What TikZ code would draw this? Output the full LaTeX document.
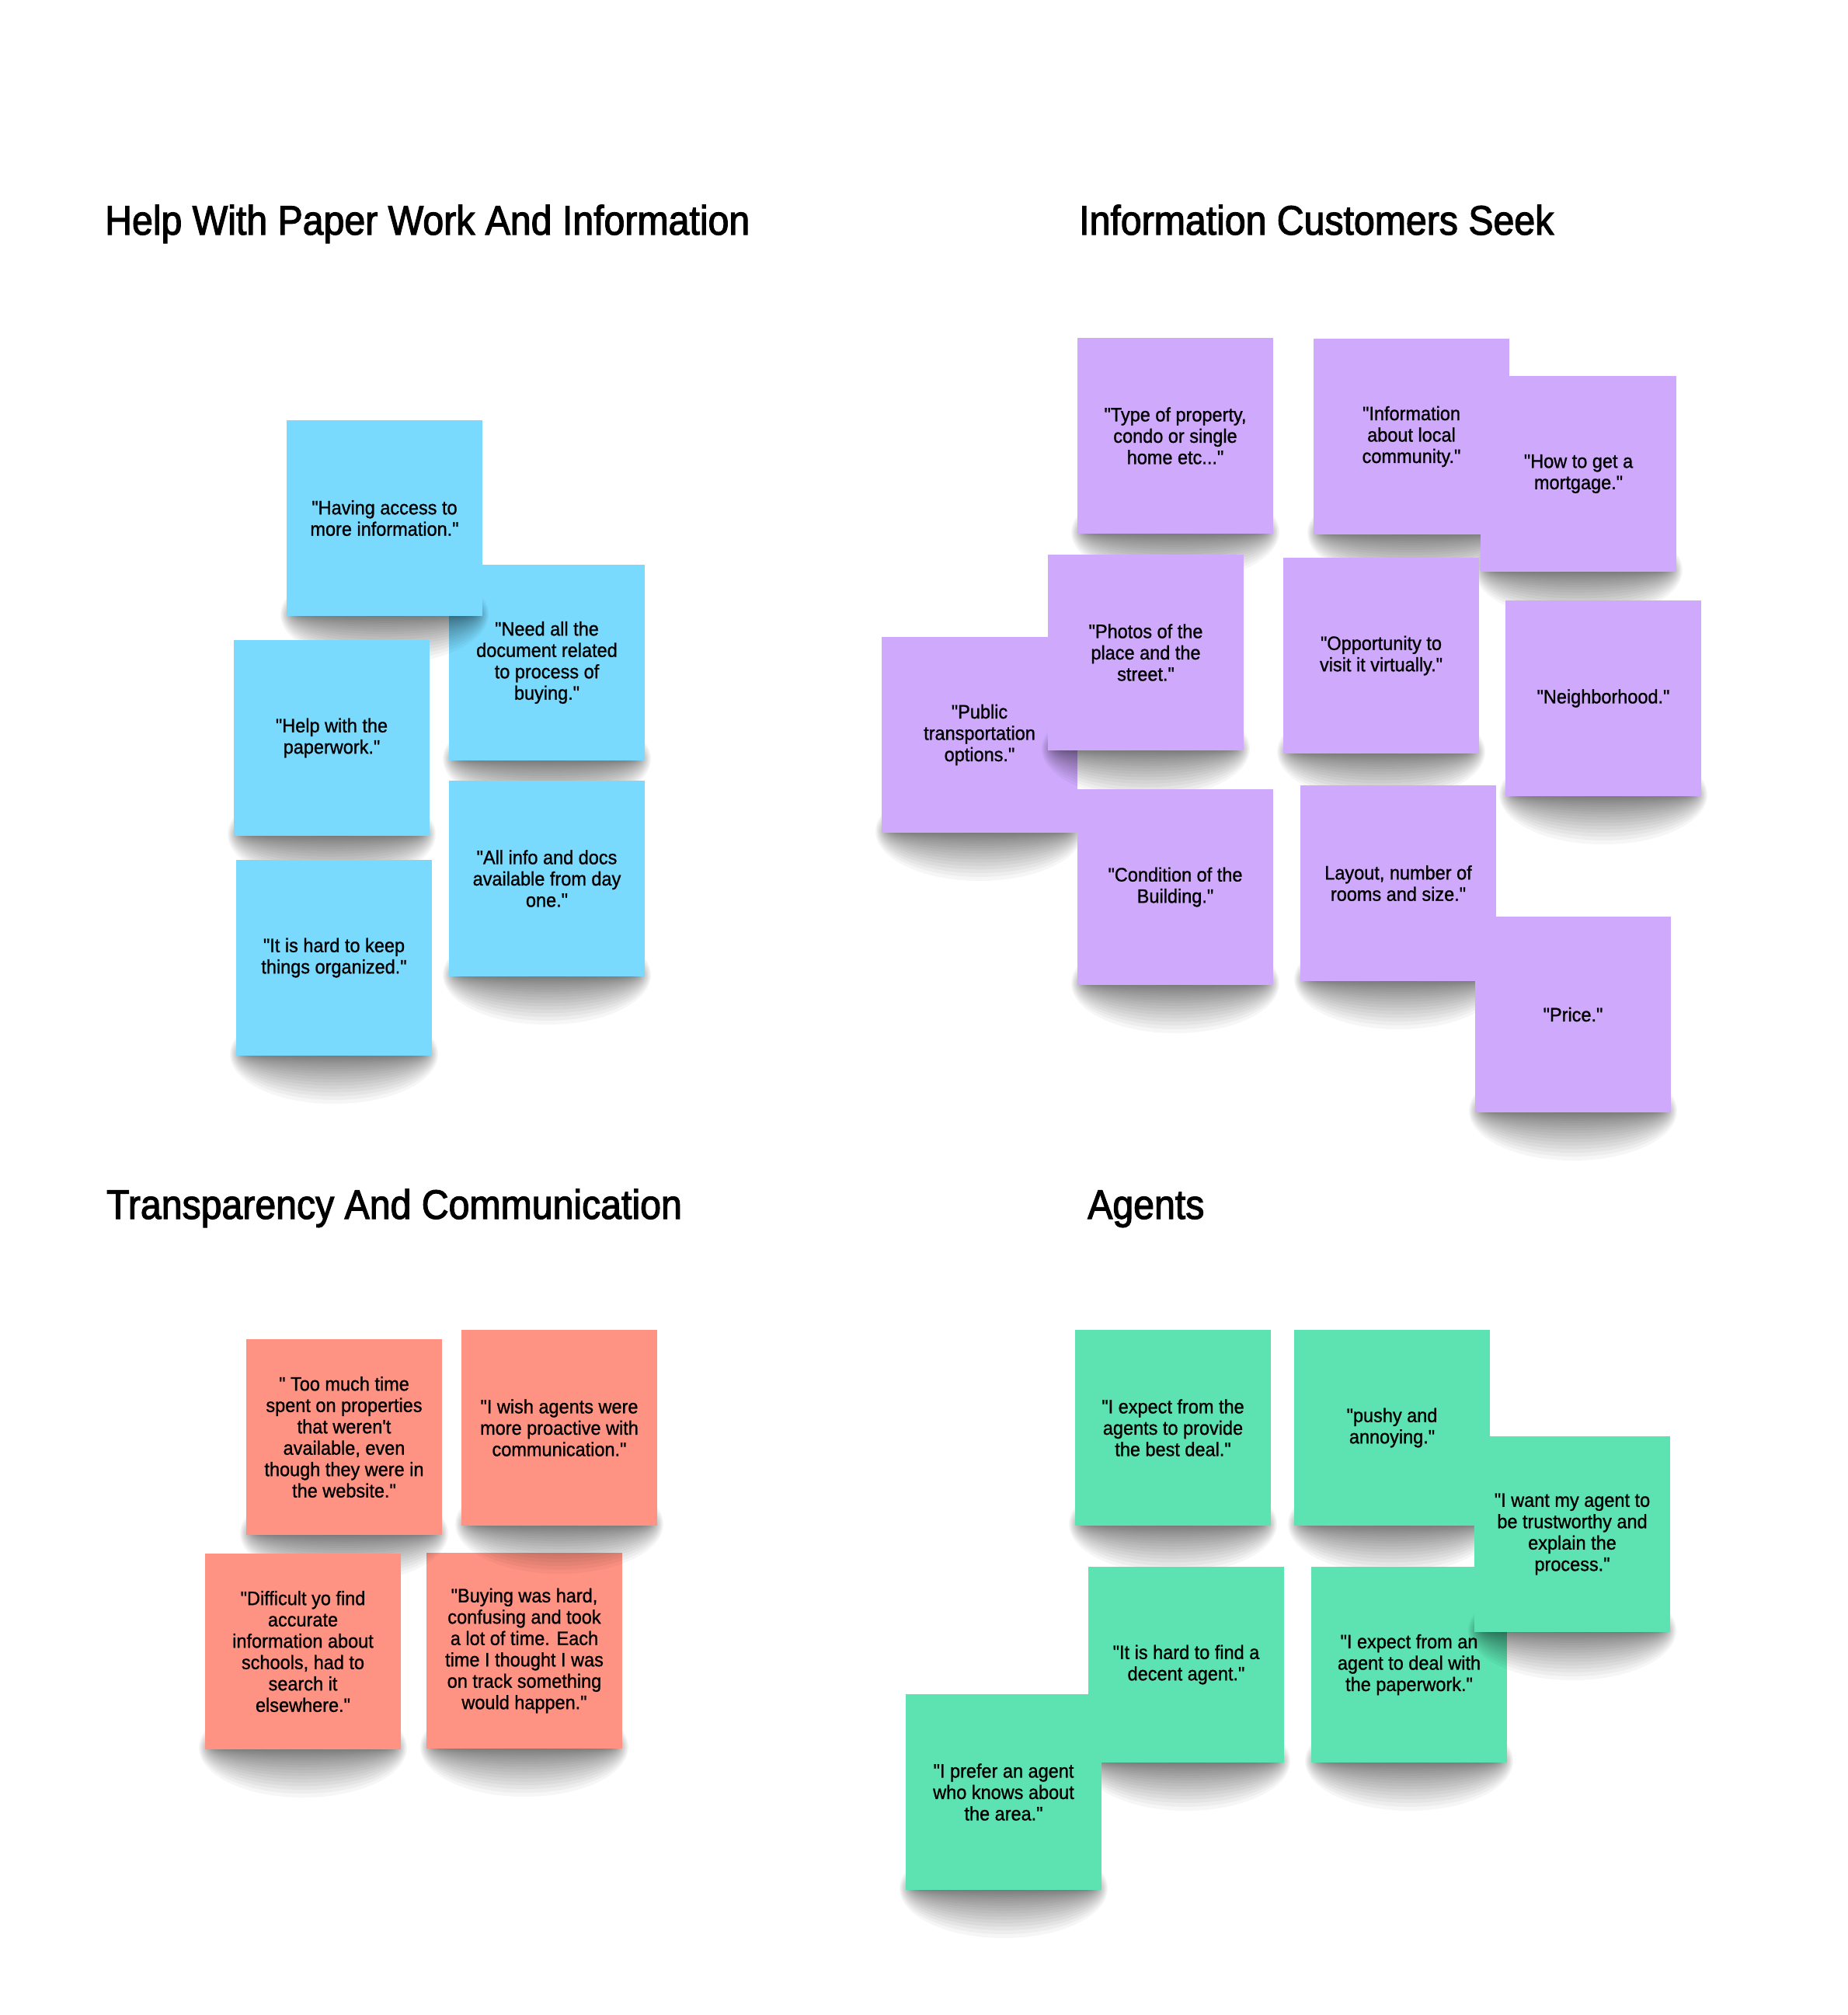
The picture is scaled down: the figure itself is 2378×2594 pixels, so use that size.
\documentclass[tikz,border=0pt]{standalone}
\usepackage{fontspec}
\newfontfamily\notefont{Liberation Sans}[FakeStretch=0.94,FakeBold=1]
\newfontfamily\titlefont{Liberation Sans}[FakeStretch=0.91,FakeBold=2.2]
\definecolor{nblue}{HTML}{7ADAFD}
\definecolor{npurple}{HTML}{CFA9FC}
\definecolor{nred}{HTML}{FF9383}
\definecolor{ngreen}{HTML}{5DE3B1}
\tikzset{
  sticky/.style={rectangle, minimum width=252pt, minimum height=252pt, inner sep=0pt,
    align=center, text=black, font=\notefont\fontsize{25pt}{27.5pt}\selectfont},
  heading/.style={anchor=base west, inner sep=0pt, text=black,
    font=\titlefont\fontsize{53pt}{60pt}\selectfont},
  shadowlayer/.style={black, opacity=0.034},
}
\newcommand\stickynote[5]{%
  \foreach \k in {1,...,20}{%
    \fill[shadowlayer] ({#2+126},{#3+250}) ellipse [x radius={108+1.3*\k}, y radius={1.2*\k+0.1*\k*\k}];}
  \node[sticky, fill=#4] (#1) at ({#2+126},{#3+126}) {#5};
}
\begin{document}
\begin{tikzpicture}[x=1pt,y=-1pt]
\fill[white] (0,0) rectangle (2378,2594);
\useasboundingbox (0,0) rectangle (2378,2594);

% titles
\node[heading] (t1) at (135,302) {Help With Paper Work And Information};
\node[heading] (t2) at (1389,302) {Information Customers Seek};
\node[heading] (t3) at (137,1569) {Transparency And Communication};
\node[heading] (t4) at (1400,1569) {Agents};

% quadrant 1
\stickynote{q1b}{578}{727}{nblue}{"Need all the\\document related\\to process of\\buying."}
\stickynote{q1a}{369}{541}{nblue}{"Having access to\\more information."}
\stickynote{q1c}{301}{824}{nblue}{"Help with the\\paperwork."}
\stickynote{q1d}{578}{1005}{nblue}{"All info and docs\\available from day\\one."}
\stickynote{q1e}{304}{1107}{nblue}{"It is hard to keep\\things organized."}

% quadrant 2
\stickynote{q2a}{1387}{435}{npurple}{"Type of property,\\condo or single\\home etc..."}
\stickynote{q2b}{1691}{436}{npurple}{"Information\\about local\\community."}
\stickynote{q2c}{1906}{484}{npurple}{"How to get a\\mortgage."}
\stickynote{q2e}{1135}{820}{npurple}{"Public\\transportation\\options."}
\stickynote{q2d}{1349}{714}{npurple}{"Photos of the\\place and the\\street."}
\stickynote{q2g}{1652}{718}{npurple}{"Opportunity to\\visit it virtually."}
\stickynote{q2h}{1938}{773}{npurple}{"Neighborhood."}
\stickynote{q2f}{1387}{1016}{npurple}{"Condition of the\\Building."}
\stickynote{q2i}{1674}{1011}{npurple}{Layout, number of\\rooms and size."}
\stickynote{q2j}{1899}{1180}{npurple}{"Price."}

% quadrant 3
\stickynote{q3d}{549}{1999}{nred}{"Buying was hard,\\confusing and took\\a lot of time. Each\\time I thought I was\\on track something\\would happen."}
\stickynote{q3b}{594}{1712}{nred}{"I wish agents were\\more proactive with\\communication."}
\stickynote{q3a}{317}{1724}{nred}{" Too much time\\spent on properties\\that weren't\\available, even\\though they were in\\the website."}
\stickynote{q3c}{264}{2000}{nred}{"Difficult yo find\\accurate\\information about\\schools, had to\\search it\\elsewhere."}

% quadrant 4
\stickynote{q4a}{1384}{1712}{ngreen}{"I expect from the\\agents to provide\\the best deal."}
\stickynote{q4b}{1666}{1712}{ngreen}{"pushy and\\annoying."}
\stickynote{q4d}{1401}{2017}{ngreen}{"It is hard to find a\\decent agent."}
\stickynote{q4e}{1688}{2017}{ngreen}{"I expect from an\\agent to deal with\\the paperwork."}
\stickynote{q4c}{1898}{1849}{ngreen}{"I want my agent to\\be trustworthy and\\explain the\\process."}
\stickynote{q4f}{1166}{2181}{ngreen}{"I prefer an agent\\who knows about\\the area."}
\end{tikzpicture}
\end{document}
